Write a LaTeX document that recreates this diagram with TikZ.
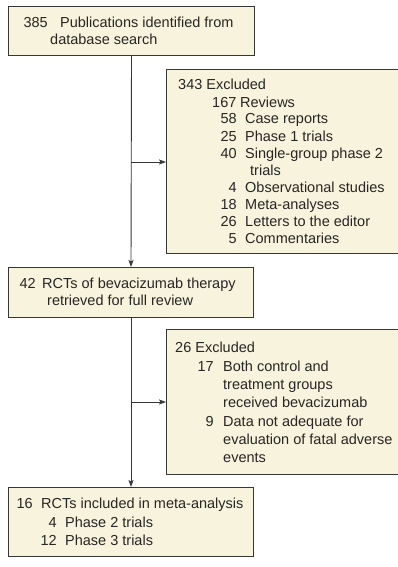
\documentclass[tikz,border=0pt]{standalone}
\usepackage{fontspec}
\setmainfont{Liberation Sans}
\usetikzlibrary{arrows.meta}
\definecolor{boxfill}{RGB}{248,243,220}
\definecolor{boxline}{RGB}{55,55,55}
\begin{document}
\begin{tikzpicture}[x=1pt,y=-1pt,
  box/.style={draw=boxline, line width=1pt, fill=boxfill, anchor=north west, inner sep=0pt},
  txt/.style={anchor=base west, inner sep=0pt, font=\fontsize{14.5}{17}\selectfont, text=black!85},
  num/.style={anchor=base east, inner sep=0pt, font=\fontsize{14.5}{17}\selectfont, text=black!85},
  arr/.style={draw=boxline, line width=0.9pt, -{Stealth[length=7pt,width=5pt,inset=1.5pt]}}]
\useasboundingbox (0,0) rectangle (398,567);
% boxes
\node[box, minimum width=246pt, minimum height=49pt] (b1) at (8,6) {};
\node[box, minimum width=234pt, minimum height=184pt] (e1) at (166,69) {};
\node[box, minimum width=245pt, minimum height=50pt] (b2) at (8,267) {};
\node[box, minimum width=234pt, minimum height=145pt] (e2) at (166,329) {};
\node[box, minimum width=245pt, minimum height=69pt] (b3) at (8,487) {};
% box 1 text
\node[num] (n1) at (48,28) {385};
\node[txt] (t1a) at (60,28) {Publications identified from};
\node[txt] (t1b) at (50,45) {database search};
% excluded 1 text
\node[txt] (x1h) at (178,90) {343 Excluded};
\node[txt] (x1n1) at (212,107) {167};
\node[txt] (x1t1) at (240,107) {Reviews};
\node[num] (x1n2) at (237,124) {58};
\node[txt] (x1t2) at (245,124) {Case reports};
\node[num] (x1n3) at (237,141) {25};
\node[txt] (x1t3) at (245,141) {Phase 1 trials};
\node[num] (x1n4) at (237,158) {40};
\node[txt] (x1t4) at (245,158) {Single-group phase 2};
\node[txt] (x1t4b) at (250,175) {trials};
\node[num] (x1n5) at (237,192) {4};
\node[txt] (x1t5) at (245,192) {Observational studies};
\node[num] (x1n6) at (237,209) {18};
\node[txt] (x1t6) at (245,209) {Meta-analyses};
\node[num] (x1n7) at (237,226) {26};
\node[txt] (x1t7) at (245,226) {Letters to the editor};
\node[num] (x1n8) at (237,243) {5};
\node[txt] (x1t8) at (245,243) {Commentaries};
% box 2 text
\node[num] (n2) at (36,288) {42};
\node[txt] (t2a) at (42,288) {RCTs of bevacizumab therapy};
\node[txt] (t2b) at (47,305) {retrieved for full review};
% excluded 2 text
\node[txt] (x2h) at (175,352) {26 Excluded};
\node[num] (x2n1) at (214,371) {17};
\node[txt] (x2t1) at (223,371) {Both control and};
\node[txt] (x2t1b) at (223,389) {treatment groups};
\node[txt] (x2t1c) at (223,407) {received bevacizumab};
\node[num] (x2n2) at (214,426) {9};
\node[txt] (x2t2) at (223,426) {Data not adequate for};
\node[txt] (x2t2b) at (223,444) {evaluation of fatal adverse};
\node[txt] (x2t2c) at (223,462) {events};
% box 3 text
\node[num] (n3) at (33,508) {16};
\node[txt] (t3a) at (41,508) {RCTs included in meta-analysis};
\node[num] (n3b) at (57,527) {4};
\node[txt] (t3b) at (65,527) {Phase 2 trials};
\node[num] (n3c) at (57,545) {12};
\node[txt] (t3c) at (65,545) {Phase 3 trials};
% connectors
\coordinate (j1) at (131,162);
\coordinate (j2) at (131,402);
\draw[arr] (b1.south) -- (b2.north);
\draw[arr] (b2.south) -- (b3.north);
\draw[arr] (j1) -- (j1 -| e1.west);
\draw[arr] (j2) -- (j2 -| e2.west);
\end{tikzpicture}
\end{document}
